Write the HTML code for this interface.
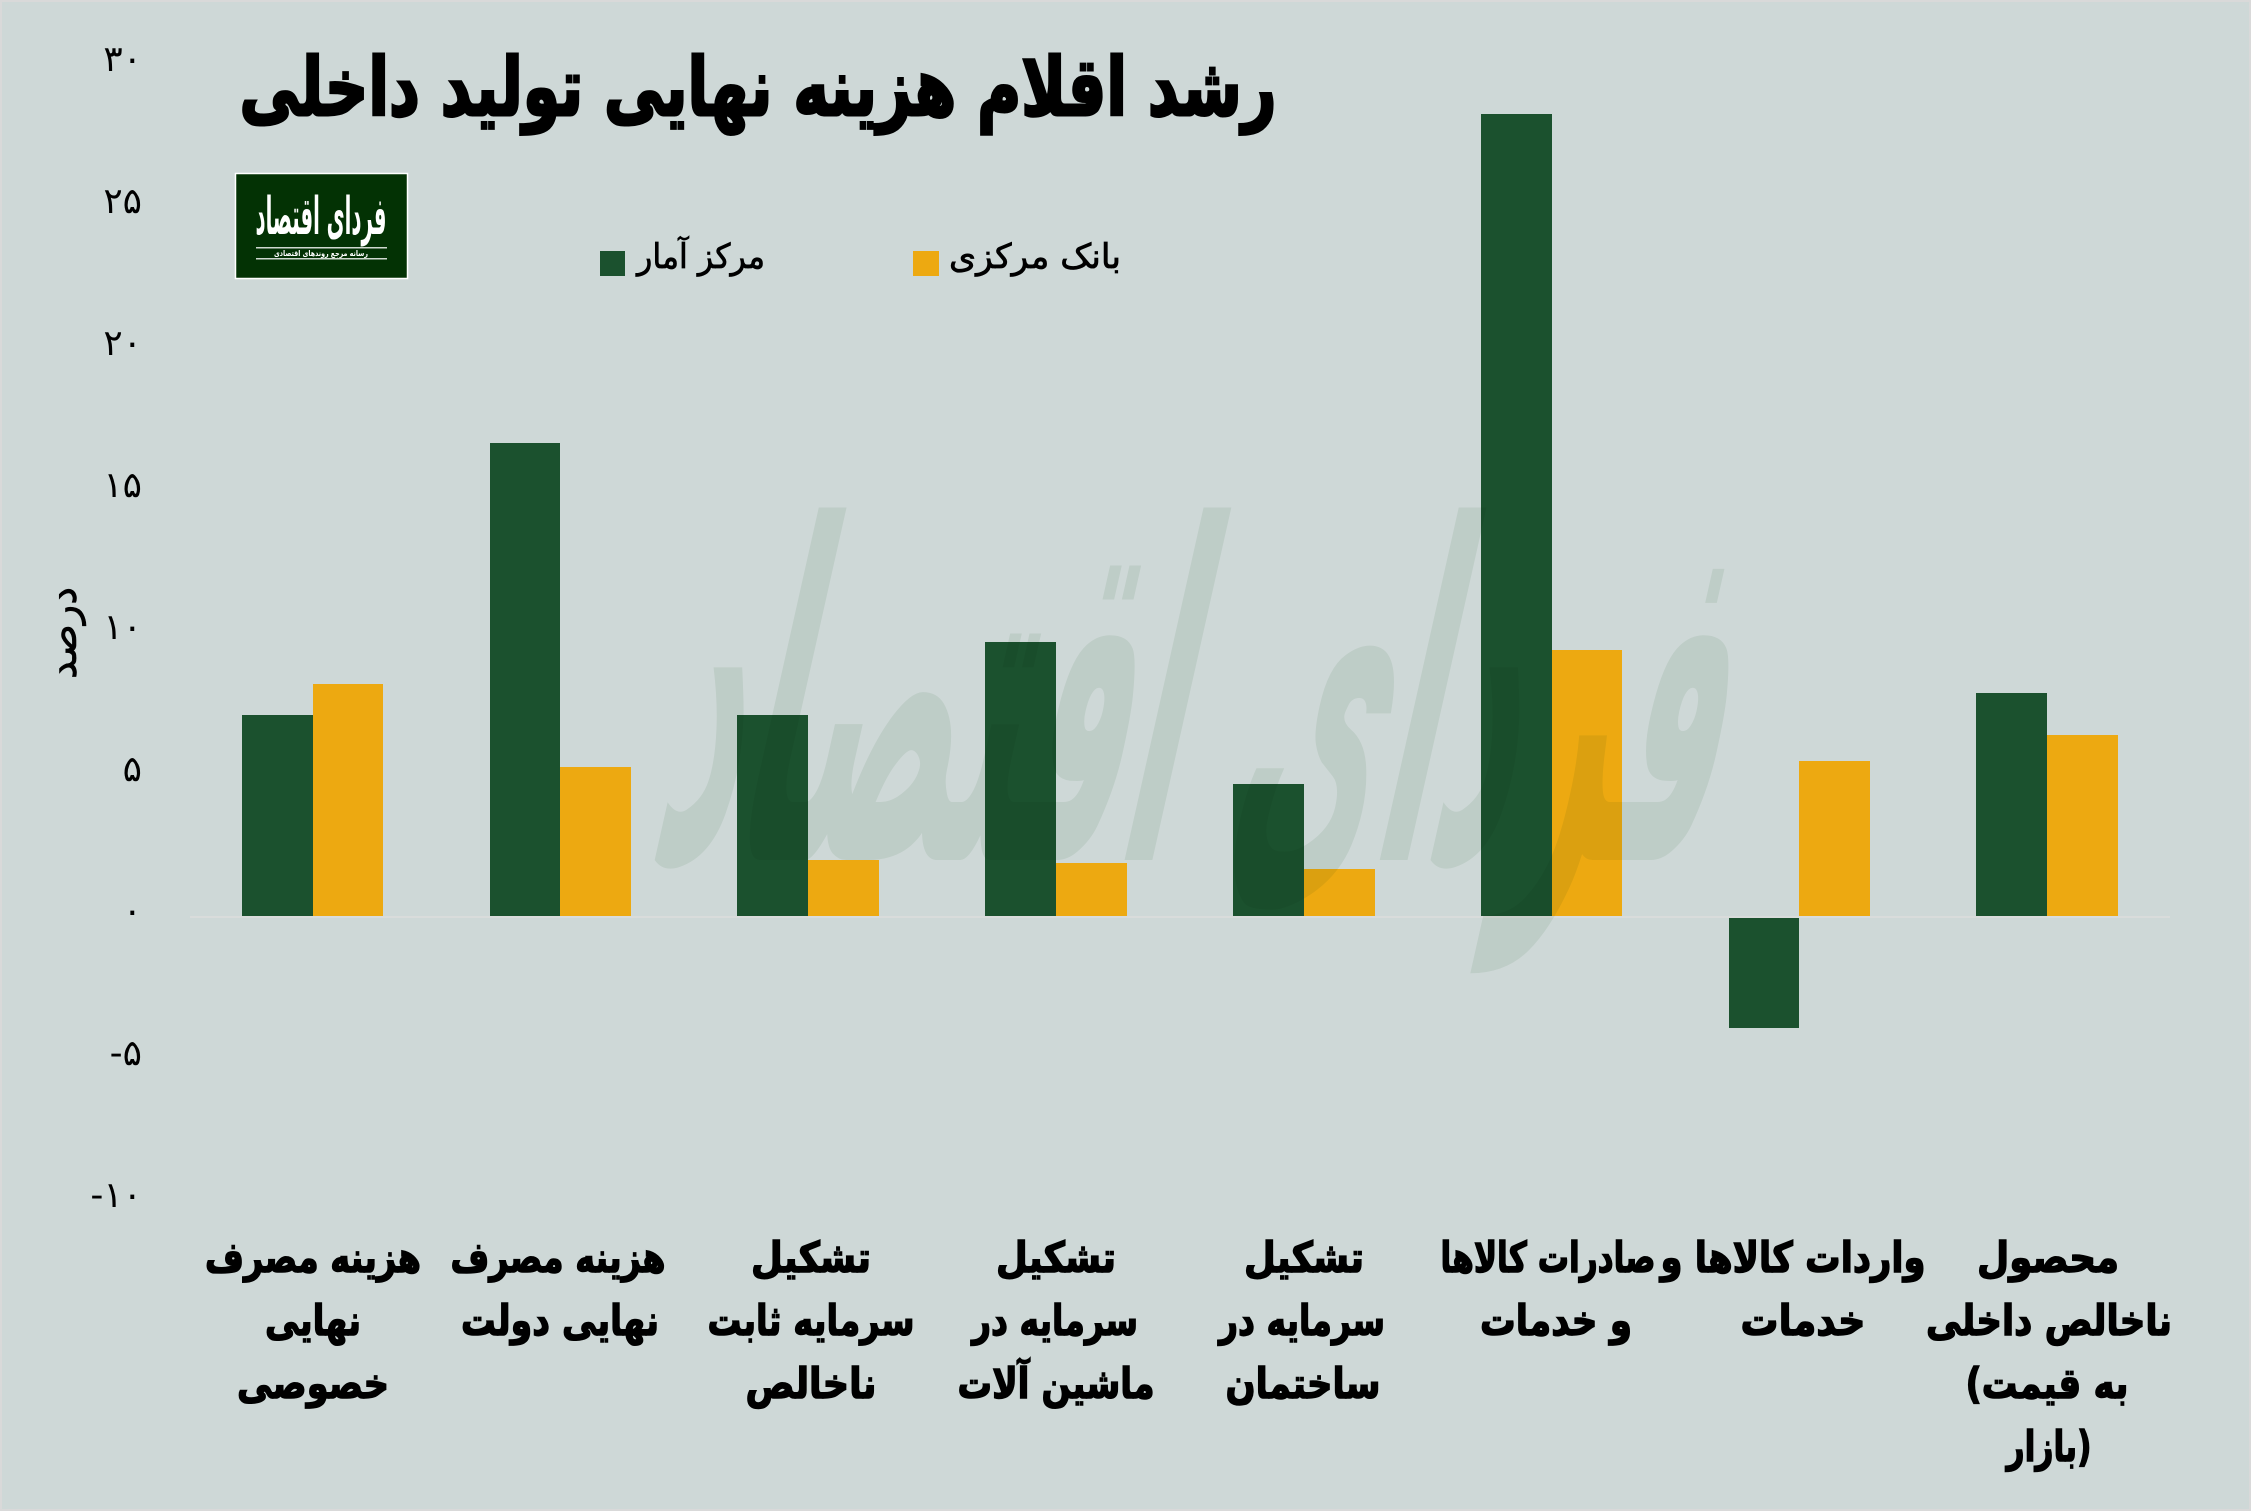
<!DOCTYPE html>
<html><head><meta charset="utf-8"><style>
html,body{margin:0;padding:0;background:#ced8d7;}
svg{display:block;}
text{font-family:"DejaVu Sans","Liberation Sans",sans-serif;}
.wm{mix-blend-mode:multiply;}
</style></head><body>
<svg width="2251" height="1511" viewBox="0 0 2251 1511" xmlns="http://www.w3.org/2000/svg">
<rect x="0" y="0" width="2251" height="1511" fill="#d9d9d9"/>
<rect x="2" y="2" width="2247" height="1507" fill="#ced8d7"/>

<!-- title -->
<text x="758" y="115" font-size="80" font-weight="bold" text-anchor="middle" textLength="1037" lengthAdjust="spacingAndGlyphs" fill="#000" stroke="#000" stroke-width="3">رشد اقلام هزینه نهایی تولید داخلی</text>

<!-- logo -->
<rect x="235.5" y="173.5" width="172" height="105" fill="#033204" stroke="#ffffff" stroke-width="1.5"/>
<text x="321" y="234" font-size="52" font-weight="bold" text-anchor="middle" textLength="131" lengthAdjust="spacingAndGlyphs" fill="#ffffff">فردای اقتصاد</text>
<rect x="256" y="247" width="131" height="1.5" fill="#cfd8cf"/>
<rect x="256" y="258" width="131" height="1.5" fill="#cfd8cf"/>
<text x="321" y="256" font-size="8" font-weight="bold" text-anchor="middle" textLength="94" lengthAdjust="spacingAndGlyphs" fill="#ffffff">رسانه مرجع روندهای اقتصادی</text>

<!-- legend -->
<rect x="600" y="251" width="25" height="25" fill="#1b512e"/>
<text x="701" y="268" font-size="34" text-anchor="middle" textLength="128" lengthAdjust="spacingAndGlyphs" fill="#000" stroke="#000" stroke-width="0.8">مرکز آمار</text>
<rect x="913" y="251" width="26" height="25" fill="#eda911"/>
<text x="1035" y="268" font-size="34" text-anchor="middle" textLength="172" lengthAdjust="spacingAndGlyphs" fill="#000" stroke="#000" stroke-width="0.8">بانک مرکزی</text>

<!-- y axis ticks -->
<g font-size="36" text-anchor="end" fill="#000">
<text x="142" y="71">۳۰</text>
<text x="142" y="213">۲۵</text>
<text x="142" y="355">۲۰</text>
<text x="142" y="497">۱۵</text>
<text x="142" y="639">۱۰</text>
<text x="142" y="781">۵</text>
<text x="142" y="923">۰</text>
<text x="142" y="1065">-۵</text>
<text x="142" y="1207">-۱۰</text>
</g>
<text transform="translate(76,633) rotate(-90)" x="0" y="0" font-size="40" text-anchor="middle" textLength="92" lengthAdjust="spacingAndGlyphs" fill="#000" stroke="#000" stroke-width="0.6">درصد</text>

<!-- bars -->
<g fill="#1b512e">
<rect x="242" y="715" width="71" height="201"/>
<rect x="490" y="443" width="70" height="473"/>
<rect x="737" y="715" width="71" height="201"/>
<rect x="985" y="642" width="71" height="274"/>
<rect x="1233" y="784" width="71" height="132"/>
<rect x="1481" y="114" width="71" height="802"/>
<rect x="1729" y="918" width="70" height="110"/>
<rect x="1976" y="693" width="71" height="223"/>
</g>
<g fill="#eda911">
<rect x="313" y="684" width="70" height="232"/>
<rect x="560" y="767" width="71" height="149"/>
<rect x="808" y="860" width="71" height="56"/>
<rect x="1056" y="863" width="71" height="53"/>
<rect x="1304" y="869" width="71" height="47"/>
<rect x="1552" y="650" width="70" height="266"/>
<rect x="1799" y="761" width="71" height="155"/>
<rect x="2047" y="735" width="71" height="181"/>
</g>
<rect x="190" y="916" width="1980" height="2" fill="#d9dcdb"/>

<!-- watermark -->
<g class="wm" transform="translate(1175,860) scale(1,1.45) skewX(-18)">
<text x="0" y="0" font-size="320" font-weight="bold" text-anchor="middle" textLength="1060" lengthAdjust="spacingAndGlyphs" fill="#ecf2ec">فردای اقتصاد</text>
</g>

<!-- category labels -->
<g font-size="42" font-weight="bold" text-anchor="middle" fill="#000" stroke="#000" stroke-width="1.5">
<text x="313" y="1272" textLength="216" lengthAdjust="spacingAndGlyphs">هزینه مصرف</text>
<text x="313" y="1335" textLength="96" lengthAdjust="spacingAndGlyphs">نهایی</text>
<text x="313" y="1398" textLength="152" lengthAdjust="spacingAndGlyphs">خصوصی</text>

<text x="558" y="1272" textLength="215" lengthAdjust="spacingAndGlyphs">هزینه مصرف</text>
<text x="560" y="1335" textLength="198" lengthAdjust="spacingAndGlyphs">نهایی دولت</text>

<text x="811" y="1272" textLength="120" lengthAdjust="spacingAndGlyphs">تشکیل</text>
<text x="811" y="1335" textLength="207" lengthAdjust="spacingAndGlyphs">سرمایه ثابت</text>
<text x="811" y="1398" textLength="131" lengthAdjust="spacingAndGlyphs">ناخالص</text>

<text x="1056" y="1272" textLength="120" lengthAdjust="spacingAndGlyphs">تشکیل</text>
<text x="1055" y="1335" textLength="166" lengthAdjust="spacingAndGlyphs">سرمایه در</text>
<text x="1056" y="1398" textLength="197" lengthAdjust="spacingAndGlyphs">ماشین آلات</text>

<text x="1304" y="1272" textLength="120" lengthAdjust="spacingAndGlyphs">تشکیل</text>
<text x="1302" y="1335" textLength="166" lengthAdjust="spacingAndGlyphs">سرمایه در</text>
<text x="1303" y="1398" textLength="155" lengthAdjust="spacingAndGlyphs">ساختمان</text>

<text x="1548" y="1272" textLength="215" lengthAdjust="spacingAndGlyphs">صادرات کالاها</text>
<text x="1556" y="1335" textLength="152" lengthAdjust="spacingAndGlyphs">و خدمات</text>

<text x="1793" y="1272" textLength="265" lengthAdjust="spacingAndGlyphs">واردات کالاها و</text>
<text x="1803" y="1335" textLength="125" lengthAdjust="spacingAndGlyphs">خدمات</text>

<text x="2048" y="1272" textLength="142" lengthAdjust="spacingAndGlyphs">محصول</text>
<text x="2049" y="1335" textLength="246" lengthAdjust="spacingAndGlyphs">ناخالص داخلی</text>
<text x="2047" y="1398" textLength="163" lengthAdjust="spacingAndGlyphs">(به قیمت</text>
<text x="2049" y="1461" textLength="85" lengthAdjust="spacingAndGlyphs">بازار)</text>
</g>
</svg>
</body></html>
